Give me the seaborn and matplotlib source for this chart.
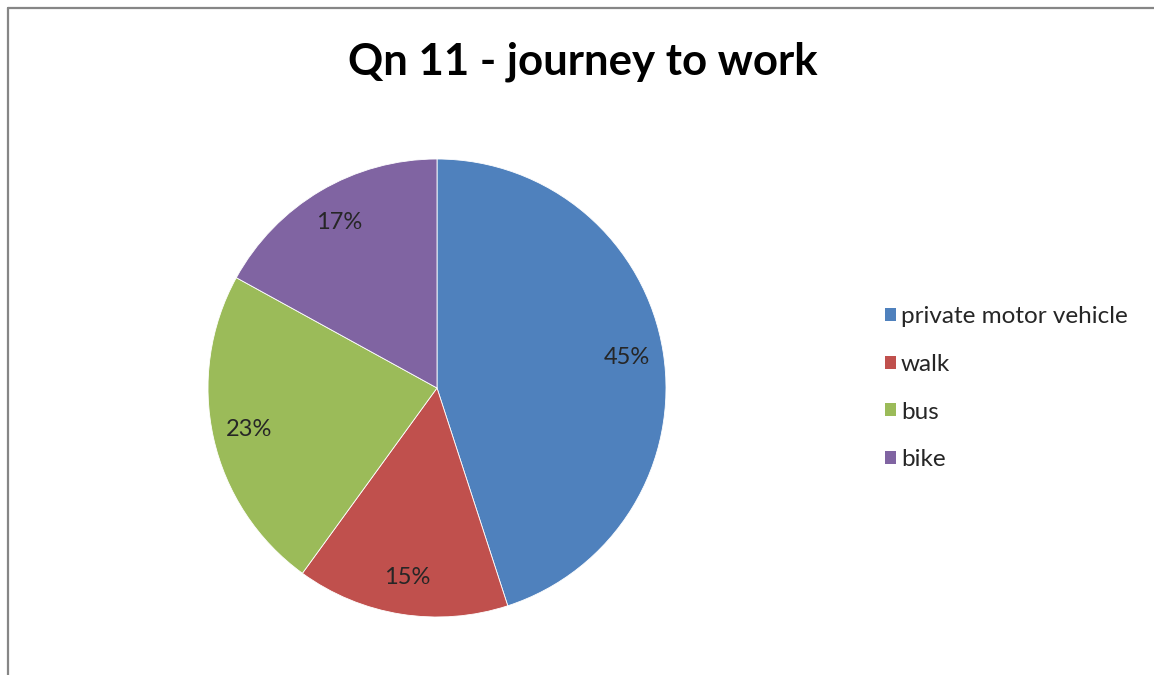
import matplotlib
matplotlib.use("Agg")
import matplotlib.pyplot as plt
from matplotlib.lines import Line2D
from matplotlib.patches import Patch
import seaborn as sns

# Journey to work survey, Question 11
modes = ["private motor vehicle", "walk", "bus", "bike"]
shares = [45, 15, 23, 17]
slice_colors = ["#4F81BD", "#C0504D", "#9BBB59", "#8064A2"]
title = "Qn 11 - journey to work"

sns.set_theme(style="white")
plt.rcParams["font.family"] = ["Lato", "DejaVu Sans"]

W, H = 1154, 675
fig = plt.figure(figsize=(W / 100, H / 100), dpi=100)
fig.patch.set_facecolor("white")

# Pie area: centre (437, 388) px, radius 229 px
cx, cy, r = 437, 388, 229
ax = fig.add_axes([(cx - r) / W, (H - cy - r) / H, 2 * r / W, 2 * r / H])
palette = sns.color_palette(slice_colors)
wedges, texts = ax.pie(
    shares,
    colors=palette,
    startangle=90,
    counterclock=False,
    labels=[f"{v}%" for v in shares],
    labeldistance=0.84,
    wedgeprops=dict(edgecolor="white", linewidth=0.6),
    textprops=dict(fontsize=17, color="#262626"),
)
for t in texts:
    t.set_horizontalalignment("center")
    t.set_verticalalignment("center")
ax.set_xlim(-1, 1)
ax.set_ylim(-1, 1)
ax.set_aspect("equal")
ax.axis("off")

fig.text(583 / W, 1 - 62 / H, title, ha="center", va="center",
         fontsize=31.5, fontweight="bold", color="#000000")

handles = [Patch(facecolor=c, edgecolor="none") for c in palette]
fig.legend(handles, modes, loc="upper left",
           bbox_to_anchor=(873 / W, 1 - 294 / H),
           frameon=False, fontsize=17.5, handlelength=0.45, handleheight=0.45,
           handletextpad=0.2, labelspacing=1.1, borderpad=0,
           labelcolor="#262626")

# Chart area frame (top and left edges)
fig.add_artist(Line2D([8 / W, 1.0], [1 - 8 / H, 1 - 8 / H],
                      transform=fig.transFigure, color="#868686", linewidth=1.6))
fig.add_artist(Line2D([8 / W, 8 / W], [0.0, 1 - 8 / H],
                      transform=fig.transFigure, color="#868686", linewidth=1.6))

fig.savefig("out.png", dpi=100, facecolor="white")
